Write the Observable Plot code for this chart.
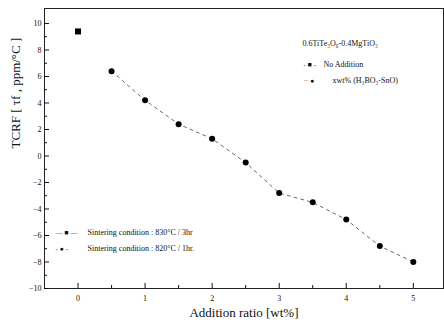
<!DOCTYPE html>
<html><head><meta charset="utf-8">
<script src="https://cdn.jsdelivr.net/npm/d3@7"></script>
<script src="https://cdn.jsdelivr.net/npm/@observablehq/plot@0.6"></script>
<style>body{margin:0;background:#fff}svg{display:block}</style>
</head><body><div id="chart"></div>
<script>
const xTicks = [0, 1, 2, 3, 4, 5];
const xMinorTicks = [0.5, 1.5, 2.5, 3.5, 4.5];
const yTicks = [10, 8, 6, 4, 2, 0, -2, -4, -6, -8, -10];
const yMinorTicks = [9, 7, 5, 3, 1, -1, -3, -5, -7, -9];
const additionRatio = [0.5, 1, 1.5, 2, 2.5, 3, 3.5, 4, 4.5, 5];
const tcrf = [6.4, 4.2, 2.4, 1.3, -0.5, -2.8, -3.5, -4.8, -6.8, -8.0];
const noAdditionX = [0];
const noAdditionY = [9.4];
const legendTop = ["0.6TiTe₃O₈-0.4MgTiO₃", "No Addition", "xwt% (H₃BO₃-SnO)"];
const legendBottom = ["Sintering condition : 830°C / 3hr", "Sintering condition : 820°C / 1hr."];

const series = additionRatio.map((x, i) => ({x, y: tcrf[i]}));
const base = noAdditionX.map((x, i) => ({x, y: noAdditionY[i]}));
const font = "'Liberation Serif', 'DejaVu Serif', serif";
const lt = (txt, dx, dy, size = 8) =>
  Plot.text([txt], {frameAnchor: "top-left", dx, dy, textAnchor: "start", lineAnchor: "middle", fontSize: size, fill: "#111"});

const chart = Plot.plot({
  width: 444, height: 325,
  marginLeft: 44, marginRight: 1, marginTop: 8, marginBottom: 37,
  style: {fontFamily: font, fontSize: "8px", color: "#111", background: "#fff"},
  x: {domain: [-0.5, 5.45], label: null},
  y: {domain: [-10, 11.13], label: null},
  marks: [
    Plot.frame({stroke: "#222", strokeWidth: 1}),
    Plot.axisX(xTicks, {tickSize: -5, tickPadding: 12, fontSize: 8}),
    Plot.axisX(xMinorTicks, {tickSize: -3, tickFormat: () => ""}),
    Plot.axisY(yTicks, {tickSize: -5, tickPadding: 8, fontSize: 8}),
    Plot.axisY(yMinorTicks, {tickSize: -3, tickFormat: () => ""}),
    Plot.text(["Addition ratio [wt%]"], {frameAnchor: "bottom", lineAnchor: "middle", dy: 24, fontSize: 13, fill: "#111"}),
    Plot.text(["TCRF [ τf , ppm/°C ]"], {frameAnchor: "left", dx: -29, rotate: -90, fontSize: 13, fill: "#111"}),
    Plot.line(series, {x: "x", y: "y", stroke: "#444", strokeWidth: 0.8, strokeDasharray: "3,4"}),
    Plot.dot(series, {x: "x", y: "y", r: 3, fill: "#000"}),
    Plot.dot(base, {x: "x", y: "y", r: 3.4, symbol: "square", fill: "#000"}),
    // top-right legend
    lt(legendTop[0], 258, 35),
    lt("- ■ -", 259, 56, 7),
    lt(legendTop[1], 279, 56),
    lt("·· ●", 259, 72, 7),
    lt(legendTop[2], 288, 72),
    // bottom-left legend
    lt("— ■ —", 11, 224, 7),
    lt(legendBottom[0], 43, 224),
    lt("- ● -", 11, 240, 7),
    lt(legendBottom[1], 43, 240)
  ]
});
document.getElementById("chart").appendChild(chart);
</script></body></html>
